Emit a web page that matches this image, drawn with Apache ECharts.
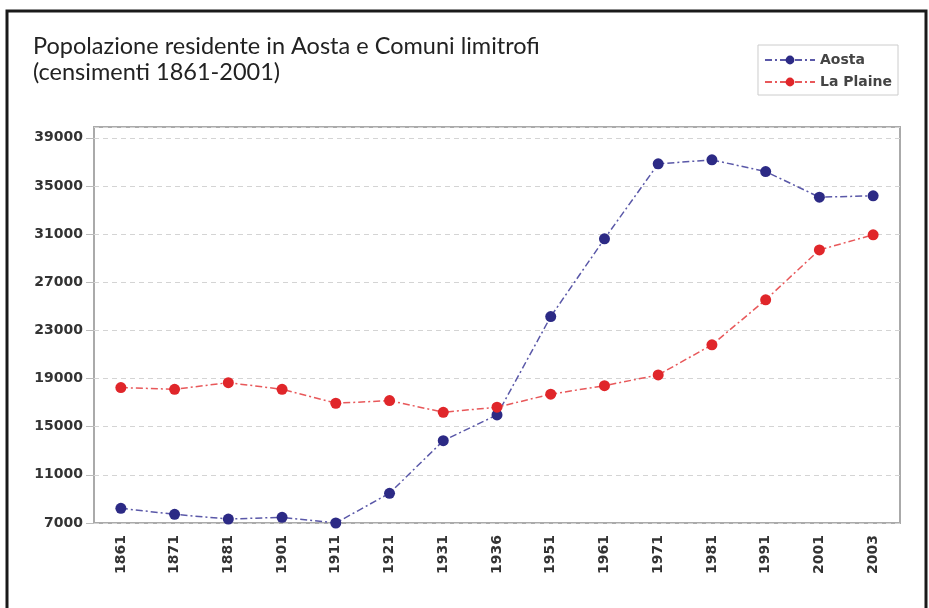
<!DOCTYPE html>
<html>
<head>
<meta charset="utf-8">
<script src="https://cdn.jsdelivr.net/npm/echarts@6/dist/echarts.min.js"></script>
<style>
  html, body { margin: 0; padding: 0; background: #fff; }
  #chart { width: 929px; height: 608px; }
</style>
</head>
<body>
<div id="chart"></div>
<script>
  // anni dei censimenti
  var years = ['1861', '1871', '1881', '1901', '1911', '1921', '1931', '1936', '1951', '1961', '1971', '1981', '1991', '2001', '2003']
  // popolazione
  var aosta = [8220, 7720, 7330, 7470, 7000, 9470, 13840, 15980, 24150, 30610, 36840, 37170, 36200, 34070, 34180]
  var laPlaine = [18250, 18110, 18660, 18110, 16950, 17170, 16200, 16620, 17700, 18410, 19300, 21800, 25540, 29690, 30940]
  var seriesNames = ['Aosta', 'La Plaine']
  var titleLines = ['Popolazione residente in Aosta e Comuni limitrofi', '(censimenti 1861-2001)']

  var myChart = echarts.init(document.getElementById('chart'))
  var labelStyle = {
    color: '#333',
    fontFamily: 'DejaVu Sans',
    fontWeight: 'bold',
    fontSize: 14
  }
  function lineSeries (name, data, color, lineColor) {
    return {
      name: name,
      type: 'line',
      data: data,
      symbol: 'circle',
      symbolSize: 11,
      itemStyle: { color: color },
      lineStyle: {
        color: lineColor,
        width: 1.5,
        type: [7, 3, 2, 3] // tratto-punto
      }
    }
  }
  myChart.setOption({
    animation: false,
    backgroundColor: '#fff',
    title: {
      text: titleLines.join('\n'),
      left: 28,
      top: 28,
      textStyle: {
        fontFamily: 'Lato',
        fontWeight: 'normal',
        fontSize: 23.5,
        lineHeight: 26,
        color: '#222'
      }
    },
    legend: {
      data: seriesNames,
      orient: 'vertical',
      right: 31,
      top: 45,
      align: 'left',
      itemWidth: 50,
      itemHeight: 11,
      itemGap: 8,
      padding: [8, 6, 6, 6],
      borderColor: '#ccc',
      borderWidth: 1,
      textStyle: {
        color: '#444',
        fontFamily: 'DejaVu Sans',
        fontWeight: 'bold',
        fontSize: 14
      }
    },
    graphic: [{
      type: 'rect',
      shape: { x: 7, y: 11, width: 919, height: 640 },
      style: { fill: 'none', stroke: '#1a1a1a', lineWidth: 3 },
      silent: true
    }],
    grid: {
      left: 94,
      right: 29,
      top: 127,
      bottom: 85,
      show: true,
      borderColor: '#aaa',
      borderWidth: 2
    },
    xAxis: {
      type: 'category',
      data: years,
      boundaryGap: true,
      axisLine: { show: false },
      axisTick: { show: false },
      axisLabel: Object.assign({ rotate: 90, margin: 12 }, labelStyle),
      splitLine: { show: false }
    },
    yAxis: {
      type: 'value',
      min: 7000,
      max: 39900,
      interval: 4000,
      axisLine: { show: false },
      axisTick: { show: true, length: 8, lineStyle: { color: '#bbb' } },
      axisLabel: Object.assign({
        showMaxLabel: false,
        margin: 11,
        formatter: function (v) { return String(v) }
      }, labelStyle),
      splitLine: { show: true, lineStyle: { color: '#d4d4d4', type: [5, 4] } }
    },
    series: [
      lineSeries(seriesNames[0], aosta, '#2c2a85', '#5a58a8'),
      lineSeries(seriesNames[1], laPlaine, '#e0262a', '#e8585a')
    ]
  })
</script>
</body>
</html>
